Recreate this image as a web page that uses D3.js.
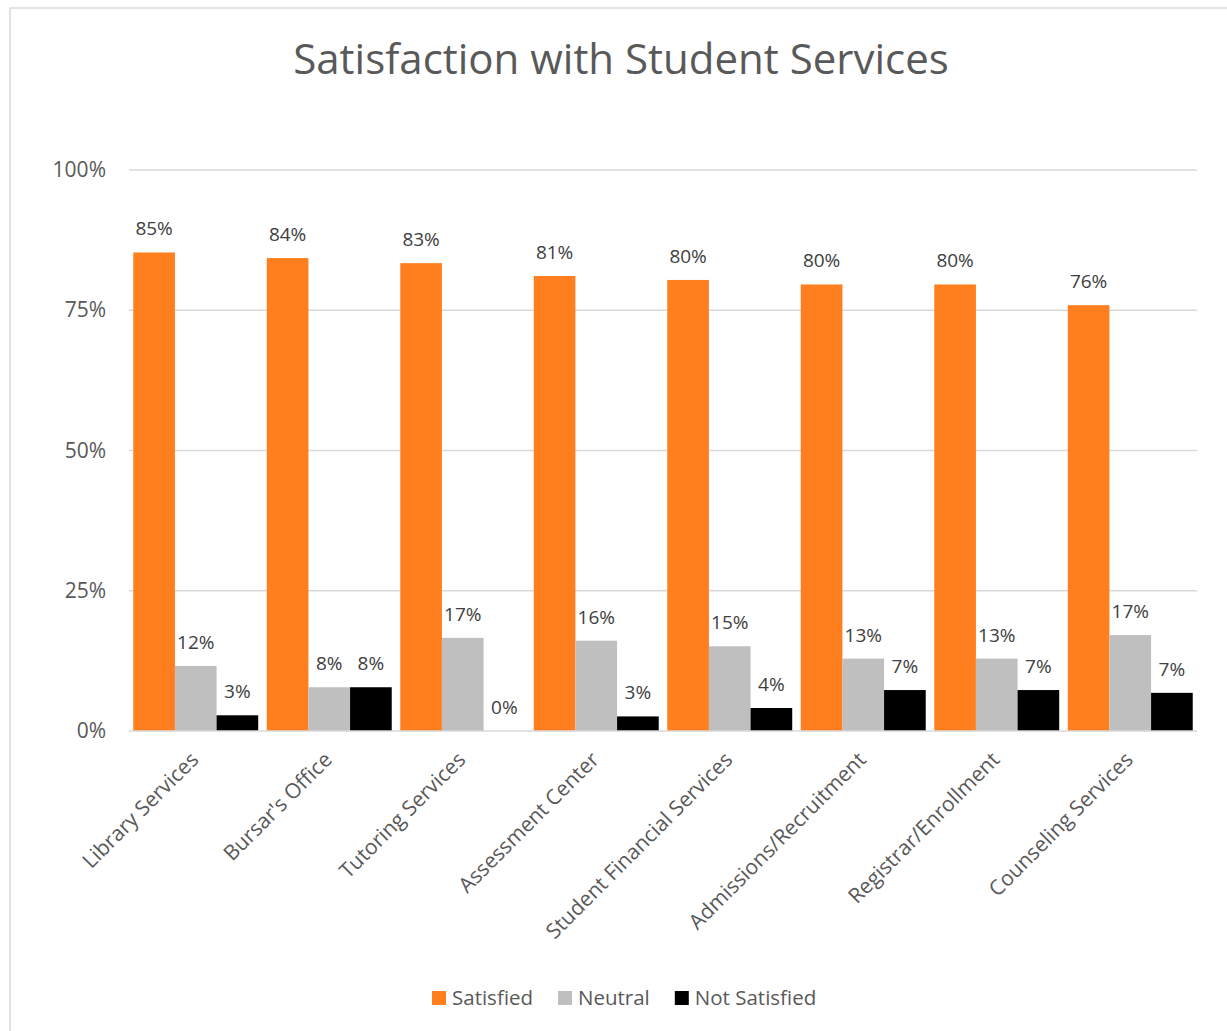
<!DOCTYPE html>
<html>
<head>
<meta charset="utf-8">
<script src="https://cdn.jsdelivr.net/npm/d3@7"></script>
<style>
  body { margin: 0; background: #fff; }
  text { font-family: "Open Sans", sans-serif; fill: #595959; }
</style>
</head>
<body>
<div id="chart"></div>
<script>
const categories = ["Library Services", "Bursar's Office", "Tutoring Services", "Assessment Center",
  "Student Financial Services", "Admissions/Recruitment", "Registrar/Enrollment", "Counseling Services"];
const seriesNames = ["Satisfied", "Neutral", "Not Satisfied"];
const satisfied = [85.3, 84.3, 83.4, 81.1, 80.4, 79.6, 79.6, 75.9];
const neutral = [11.6, 7.8, 16.6, 16.1, 15.1, 12.9, 12.9, 17.1];
const notSatisfied = [2.8, 7.8, 0, 2.6, 4.1, 7.3, 7.3, 6.8];
const yTicks = [0, 25, 50, 75, 100];
const colors = ["#ff7f1e", "#bfbfbf", "#000000"];

const width = 1227, height = 1031;
const plotLeft = 129, plotRight = 1197, plotTop = 170, plotBottom = 731;

const svg = d3.select("#chart").append("svg")
    .attr("width", width)
    .attr("height", height);

// chart area border (runs off right and bottom)
svg.append("rect")
    .attr("x", 10).attr("y", 8)
    .attr("width", 1300).attr("height", 1200)
    .attr("fill", "none")
    .attr("stroke", "#d9d9d9")
    .attr("stroke-width", 1.5);

svg.append("text")
    .attr("x", 621).attr("y", 74)
    .attr("text-anchor", "middle")
    .style("font-size", "42px")
    .text("Satisfaction with Student Services");

const y = d3.scaleLinear().domain([0, 100]).range([plotBottom, plotTop]);
const x0 = d3.scaleBand().domain(categories).range([plotLeft, plotRight]);
const pad = x0.bandwidth() * 0.032;
const x1 = d3.scaleBand().domain(seriesNames).range([pad, x0.bandwidth() - pad]);

// gridlines
svg.append("g").selectAll("line")
    .data(yTicks.filter(d => d > 0))
    .enter().append("line")
    .attr("x1", plotLeft).attr("x2", plotRight)
    .attr("y1", d => y(d)).attr("y2", d => y(d))
    .attr("stroke", "#d9d9d9")
    .attr("stroke-width", 1.5);

// y tick labels
svg.append("g").selectAll("text")
    .data(yTicks)
    .enter().append("text")
    .attr("x", 106)
    .attr("y", d => y(d) + 7)
    .attr("text-anchor", "end")
    .style("font-size", "21px")
    .text(d => d + "%");

const series = [satisfied, neutral, notSatisfied];
const rows = [];
series.forEach((vals, s) => {
  vals.forEach((v, i) => rows.push({ cat: categories[i], key: seriesNames[s], s: s, v: v }));
});

svg.append("g").selectAll("rect")
    .data(rows)
    .enter().append("rect")
    .attr("x", d => x0(d.cat) + x1(d.key))
    .attr("y", d => y(d.v))
    .attr("width", x1.bandwidth())
    .attr("height", d => y(0) - y(d.v))
    .attr("fill", d => colors[d.s]);

svg.append("g").selectAll("text")
    .data(rows)
    .enter().append("text")
    .attr("x", d => x0(d.cat) + x1(d.key) + x1.bandwidth() / 2)
    .attr("y", d => y(d.v) - 17)
    .attr("text-anchor", "middle")
    .style("font-size", "19px")
    .style("fill", "#404040")
    .text(d => Math.round(d.v) + "%");

// x axis line
svg.append("line")
    .attr("x1", plotLeft).attr("x2", plotRight)
    .attr("y1", plotBottom).attr("y2", plotBottom)
    .attr("stroke", "#d9d9d9")
    .attr("stroke-width", 1.5);

// category labels, rotated
svg.append("g").selectAll("text")
    .data(categories)
    .enter().append("text")
    .attr("transform", d => "translate(" + (x0(d) + x0.bandwidth() / 2 + 4) + "," + (plotBottom + 30) + ") rotate(-45)")
    .attr("text-anchor", "end")
    .style("font-size", "21px")
    .text(d => d);

// legend
const legend = svg.append("g").attr("transform", "translate(432,991)");
let lx = 0;
seriesNames.forEach((name, i) => {
  const g = legend.append("g").attr("transform", "translate(" + lx + ",0)");
  g.append("rect").attr("width", 14).attr("height", 14).attr("fill", colors[i]);
  const t = g.append("text").attr("x", 20).attr("y", 14)
      .style("font-size", "20.5px").text(name);
  lx += 20 + t.node().getComputedTextLength() + 25;
});
</script>
</body>
</html>
